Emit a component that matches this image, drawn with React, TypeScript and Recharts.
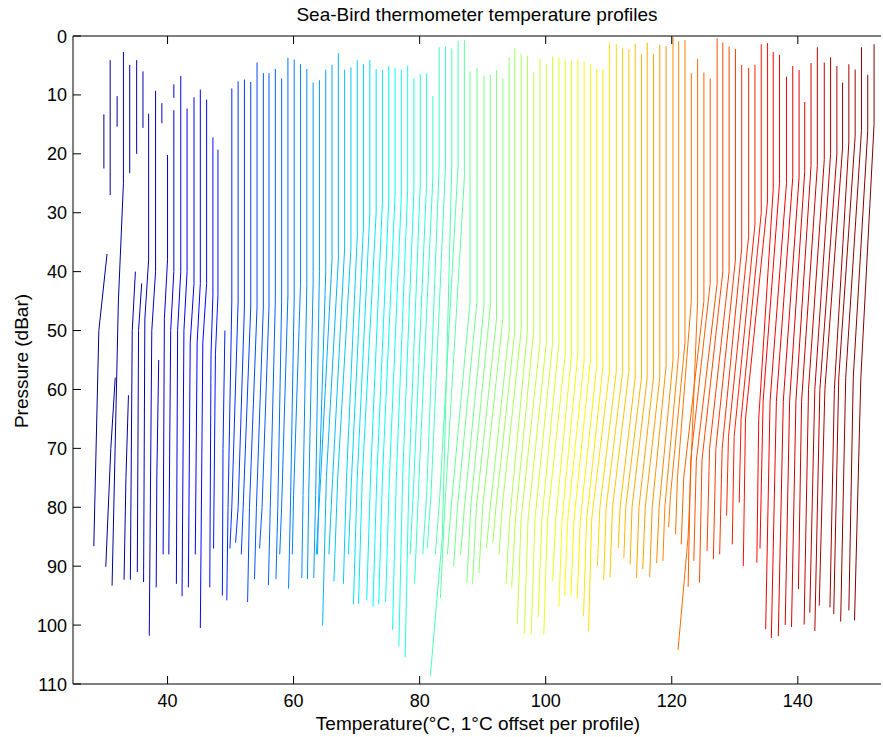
import { Line, LineChart, XAxis, YAxis } from "recharts";

const FONT = "'Liberation Sans', Arial, Helvetica, sans-serif";

const X_TICKS = [40, 60, 80, 100, 120, 140];
const Y_TICKS = [0, 10, 20, 30, 40, 50, 60, 70, 80, 90, 100, 110];

// one entry per profile, left to right (temperatures already carry the 1°C offset)
const topP = [
  13.3, 4.1, 10.2, 2.7, 4.9, 4.1, 6.0, 13.2, 9.3, 11.4,
  20.2, 8.2, 6.8, 12.3, 10.4, 9.1, 10.8, 17.2, 19.3, 50.0,
  8.9, 7.7, 7.4, 7.8, 4.5, 6.3, 6.3, 5.6, 7.2, 3.7,
  4.0, 4.8, 5.6, 7.9, 7.5, 5.7, 4.9, 2.9, 5.7, 5.3,
  4.1, 4.8, 4.1, 5.6, 5.8, 5.1, 5.4, 5.7, 5.0, 7.2,
  6.5, 6.3, 10.2, 1.9, 1.8, 2.1, 0.8, 0.7, 6.0, 5.4,
  6.7, 6.6, 5.8, 7.2, 3.6, 2.1, 3.0, 3.4, 6.1, 3.9,
  4.8, 3.5, 3.6, 4.0, 4.3, 3.9, 4.4, 4.8, 5.7, 5.7,
  1.1, 1.4, 2.1, 2.3, 1.3, 3.1, 1.1, 3.0, 1.5, 1.7,
  0.2, 0.9, 0.7, 6.3, 3.9, 6.2, 7.2, 0.4, 1.1, 1.8,
  2.2, 4.9, 5.4, 4.9, 1.4, 1.2, 2.7, 3.2, 6.9, 5.1,
  5.8, 11.2, 4.6, 1.9, 4.5, 3.6, 5.1, 7.9, 4.8, 5.7,
  1.9, 6.6, 1.4,
];

const surfT = [
  29.9, 30.9, 32.0, 33.0, 34.0, 35.1, 36.1, 37.0, 38.1, 39.1,
  40.0, 41.0, 42.1, 43.1, 44.2, 45.2, 46.2, 47.2, 48.0, 49.1,
  50.2, 51.2, 52.2, 53.2, 54.2, 55.2, 56.1, 57.1, 58.1, 59.1,
  60.1, 61.1, 62.1, 63.1, 64.1, 65.1, 66.1, 67.1, 68.1, 69.1,
  70.1, 71.1, 72.1, 73.1, 74.1, 75.1, 76.1, 77.1, 78.1, 79.1,
  80.1, 81.1, 82.1, 83.1, 84.1, 85.1, 86.1, 87.1, 88.0, 89.1,
  90.2, 91.2, 92.2, 93.2, 94.2, 95.1, 96.1, 97.1, 98.1, 99.1,
  100.1, 101.1, 102.1, 103.1, 104.1, 105.1, 106.1, 107.1, 108.1, 109.1,
  110.1, 111.2, 112.2, 113.2, 114.2, 115.2, 116.1, 117.1, 118.1, 119.1,
  120.2, 121.1, 122.1, 123.1, 124.1, 125.1, 126.1, 127.2, 128.1, 129.1,
  130.1, 131.1, 132.2, 133.2, 134.2, 135.2, 136.1, 137.1, 138.2, 139.2,
  140.2, 141.1, 142.1, 143.1, 144.2, 145.2, 146.2, 147.1, 148.1, 149.1,
  150.1, 151.1, 152.1,
];

// pressure where the profile leaves the mixed layer
const bendP = [
  22.5, 27, 15.4, 25, 23.3, 20, 15.6, 38, 40, 14.8,
  38, 40, 40, 40, 42, 42, 42, 44, 44, 50,
  45, 45, 46, 46, 46, 46, 46, 45, 45, 44,
  44, 42, 42, 42, 40, 40, 38, 38, 36, 36,
  34, 32, 30, 30, 28, 28, 27, 27, 26, 26,
  25, 25, 24, 22, 22, 22, 22, 24, 45, 45,
  46, 46, 48, 48, 50, 50, 50, 50, 50, 52,
  52, 52, 52, 54, 54, 54, 55, 55, 56, 56,
  57, 57, 57, 57, 58, 58, 58, 58, 58, 56,
  55, 54, 52, 45, 45, 45, 42, 42, 40, 40,
  38, 36, 34, 32, 30, 28, 26, 25, 25, 24,
  24, 23, 22, 22, 21, 20, 20, 19, 18, 17,
  16, 16, 15,
];

// bottom of the thermocline and the temperature there
const kneeP = [
  22.5, 50, 70, 45, 75, 50, 50, 48, 50, 75,
  48, 50, 50, 50, 52, 52, 52, 54, 54, 70,
  80, 80, 80, 80, 80, 80, 80, 80, 80, 80,
  80, 78, 78, 78, 78, 78, 75, 75, 75, 75,
  75, 75, 75, 75, 75, 75, 75, 75, 75, 75,
  75, 75, 75, 78, 78, 85, 78, 80, 80, 80,
  80, 80, 80, 80, 80, 80, 80, 82, 82, 82,
  82, 82, 82, 82, 82, 82, 82, 82, 82, 82,
  82, 80, 80, 80, 80, 80, 80, 80, 80, 80,
  80, 80, 78, 75, 85, 75, 72, 72, 72, 70,
  70, 70, 68, 68, 65, 65, 65, 62, 62, 62,
  62, 62, 62, 62, 60, 60, 60, 60, 60, 58,
  58, 58, 58,
];

const kneeT = [
  29.9, 29.1, 31.0, 32.2, 33.4, 34.4, 35.4, 36.4, 37.5, 38.3,
  39.5, 40.5, 41.6, 42.6, 43.6, 44.7, 45.6, 46.9, 47.6, 48.8,
  49.6, 50.2, 51.2, 52.0, 53.0, 54.1, 55.0, 56.3, 57.5, 58.1,
  59.5, 60.0, 61.5, 62.4, 63.5, 64.0, 64.3, 65.2, 66.2, 67.0,
  68.4, 69.2, 70.1, 70.9, 72.2, 73.2, 74.1, 75.2, 76.3, 77.3,
  78.3, 79.1, 79.9, 81.1, 81.8, 83.6, 83.2, 84.0, 85.0, 86.0,
  87.1, 88.1, 89.0, 90.0, 91.2, 92.1, 93.1, 94.3, 95.2, 96.1,
  97.2, 98.3, 99.4, 100.3, 101.6, 102.6, 103.5, 104.5, 105.5, 106.5,
  107.3, 108.6, 109.6, 110.6, 111.8, 112.7, 113.7, 114.8, 115.8, 116.9,
  118.0, 118.9, 119.8, 120.9, 122.6, 121.9, 123.0, 123.9, 124.8, 126.0,
  127.0, 128.0, 129.0, 129.9, 131.0, 131.7, 133.8, 134.5, 135.6, 136.6,
  137.7, 138.7, 139.7, 140.6, 141.7, 142.7, 143.5, 144.3, 145.8, 146.5,
  147.6, 148.8, 150.0,
];

// deepest reading of each cast
const deepT = [
  29.9, 28.3, 30.2, 31.2, 33.1, 34.1, 35.2, 36.2, 37.1, 38.2,
  39.3, 40.2, 41.4, 42.3, 43.3, 44.4, 45.2, 46.7, 47.3, 48.7,
  49.4, 49.9, 50.8, 51.7, 52.7, 53.8, 54.6, 56.0, 57.2, 57.8,
  59.2, 59.8, 61.3, 62.2, 63.2, 63.8, 63.6, 64.6, 65.6, 66.4,
  67.9, 68.7, 69.5, 70.3, 71.6, 72.6, 73.5, 74.6, 75.7, 76.7,
  77.7, 78.5, 79.2, 80.5, 81.2, 81.7, 82.5, 83.3, 84.4, 85.4,
  86.5, 87.5, 88.4, 89.4, 90.6, 91.6, 92.6, 93.7, 94.6, 95.5,
  96.6, 97.7, 98.8, 99.7, 101.1, 102.1, 103.0, 104.0, 105.0, 106.0,
  106.8, 108.2, 109.2, 110.2, 111.5, 112.4, 113.4, 114.4, 115.4, 116.5,
  117.6, 118.6, 119.5, 120.6, 121.0, 121.5, 122.6, 123.5, 124.4, 125.6,
  126.6, 127.6, 128.7, 129.6, 130.7, 131.35, 133.5, 134.0, 134.9, 135.8,
  136.9, 138.0, 139.0, 140.1, 141.0, 141.9, 142.7, 143.4, 145.1, 145.7,
  146.8, 148.1, 149.0,
];

const botP = [
  22.5, 86.6, 90.1, 93.3, 92.3, 92.3, 91, 92.7, 101.8, 93.6,
  88, 88, 93, 95.1, 93.6, 88, 100.5, 93.6, 87, 95,
  95.8, 87, 86, 88, 96.1, 92.2, 87, 93.2, 92.2, 88,
  93.8, 88, 92, 92.2, 92, 88, 88, 100.1, 88, 92.6,
  93, 88, 96.5, 96.4, 95.8, 96.9, 96.5, 96.1, 100.8, 103.6,
  105.5, 88, 93, 88, 87, 108.6, 88, 95.4, 88, 90.1,
  88, 92.8, 93, 91.2, 87, 86, 88, 93, 93.6, 99.8,
  101.5, 101.6, 98.6, 101.6, 92.5, 96.9, 95, 95, 95.5, 98.5,
  101, 90, 92.4, 91.9, 86.9, 88.6, 89.7, 92, 90.5, 91.8,
  89.5, 89.1, 83.4, 84.6, 104.2, 86.3, 93.5, 89.1, 92.8, 87.4,
  88.8, 88, 81.4, 86.3, 79.2, 90, 89.4, 87, 100.7, 102.2,
  101.9, 100, 100.3, 93.9, 99.9, 97.9, 101, 96.7, 97, 98.1,
  99.4, 97.5, 99.2,
];

// missing stretches: [profile, from dBar, to dBar, temperature where it resumes]
const gaps = [
  [1, 27, 37, 30.4],
  [2, 15.4, 58, 31.7],
  [4, 23.3, 61, 33.8],
  [5, 20, 40, 34.9],
  [6, 15.6, 42, 35.9],
  [9, 14.8, 55, 38.6],
  [11, 10.5, 12.6, 41.0],
];

function jet(f: number) {
  const c = (v: number) => Math.round(255 * Math.max(0, Math.min(1, v)));
  const r = Math.min(4 * f - 1.5, -4 * f + 4.5);
  const g = Math.min(4 * f - 0.5, -4 * f + 3.5);
  const b = Math.min(4 * f + 0.5, -4 * f + 2.5);
  return `rgb(${c(r)},${c(g)},${c(b)})`;
}

function profile(i: number) {
  const verts = [
    { t: surfT[i], p: topP[i] as number | null },
    { t: surfT[i], p: bendP[i] },
    { t: kneeT[i], p: kneeP[i] },
    { t: deepT[i], p: botP[i] },
  ];
  const gap = gaps.find((g) => g[0] === i);
  if (!gap) return verts;
  const [, from, to, resumeT] = gap;
  return [
    ...verts.filter((v) => (v.p as number) < from),
    { t: surfT[i], p: from },
    { t: surfT[i], p: null },
    { t: resumeT, p: to },
    ...verts.filter((v) => (v.p as number) > to),
  ];
}

const tickText = { fontFamily: FONT, fontSize: 18, fill: "#000" };

function BottomTick({ x, y, payload }: any) {
  return (
    <g>
      <line x1={x} x2={x} y1={y} y2={y - 8} stroke="#000" />
      <text x={x} y={y + 23} textAnchor="middle" style={tickText}>
        {payload.value}
      </text>
    </g>
  );
}

function TopTick({ x, y }: any) {
  return <line x1={x} x2={x} y1={y} y2={y + 8} stroke="#000" />;
}

function LeftTick({ x, y, payload }: any) {
  return (
    <g>
      <line x1={x} x2={x + 8} y1={y} y2={y} stroke="#000" />
      <text x={x - 6} y={y + 6.5} textAnchor="end" style={tickText}>
        {payload.value}
      </text>
    </g>
  );
}

const label = {
  position: "absolute" as const,
  fontSize: 19,
  lineHeight: "19px",
  whiteSpace: "nowrap" as const,
  color: "#000",
};

export default function App() {
  const n = surfT.length;
  return (
    <div style={{ position: "absolute", left: 0, top: 0, width: 883, height: 737, background: "#fff", fontFamily: FONT }}>
      <div style={{ ...label, left: 477, top: 14, transform: "translate(-50%, -50%)" }}>
        Sea-Bird thermometer temperature profiles
      </div>
      <div style={{ ...label, left: 478, top: 723, transform: "translate(-50%, -50%)" }}>
        Temperature(°C, 1°C offset per profile)
      </div>
      <div style={{ ...label, left: 21, top: 361, transform: "translate(-50%, -50%) rotate(-90deg)" }}>
        Pressure (dBar)
      </div>
      <LineChart width={883} height={737} margin={{ top: 30, right: 2, bottom: 0, left: 0 }}>
        <XAxis
          type="number"
          dataKey="t"
          domain={[25, 153.2]}
          ticks={X_TICKS}
          allowDataOverflow
          interval={0}
          height={53}
          tickSize={0}
          tickMargin={0}
          tickLine={false}
          axisLine={{ stroke: "#000" }}
          tick={<BottomTick />}
        />
        <XAxis
          xAxisId="top"
          orientation="top"
          type="number"
          dataKey="t"
          domain={[25, 153.2]}
          ticks={X_TICKS}
          allowDataOverflow
          interval={0}
          height={6}
          tickSize={0}
          tickMargin={0}
          tickLine={false}
          axisLine={{ stroke: "#000" }}
          tick={<TopTick />}
        />
        <YAxis
          type="number"
          reversed
          domain={[0, 110]}
          ticks={Y_TICKS}
          allowDataOverflow
          interval={0}
          width={73}
          tickSize={0}
          tickMargin={0}
          tickLine={false}
          axisLine={{ stroke: "#000" }}
          tick={<LeftTick />}
        />
        {Array.from({ length: n }, (_, i) => (
          <Line
            key={i}
            data={profile(i)}
            dataKey="p"
            type="linear"
            stroke={jet(i / (n - 1))}
            strokeWidth={1}
            dot={false}
            activeDot={false}
            isAnimationActive={false}
          />
        ))}
      </LineChart>
    </div>
  );
}
